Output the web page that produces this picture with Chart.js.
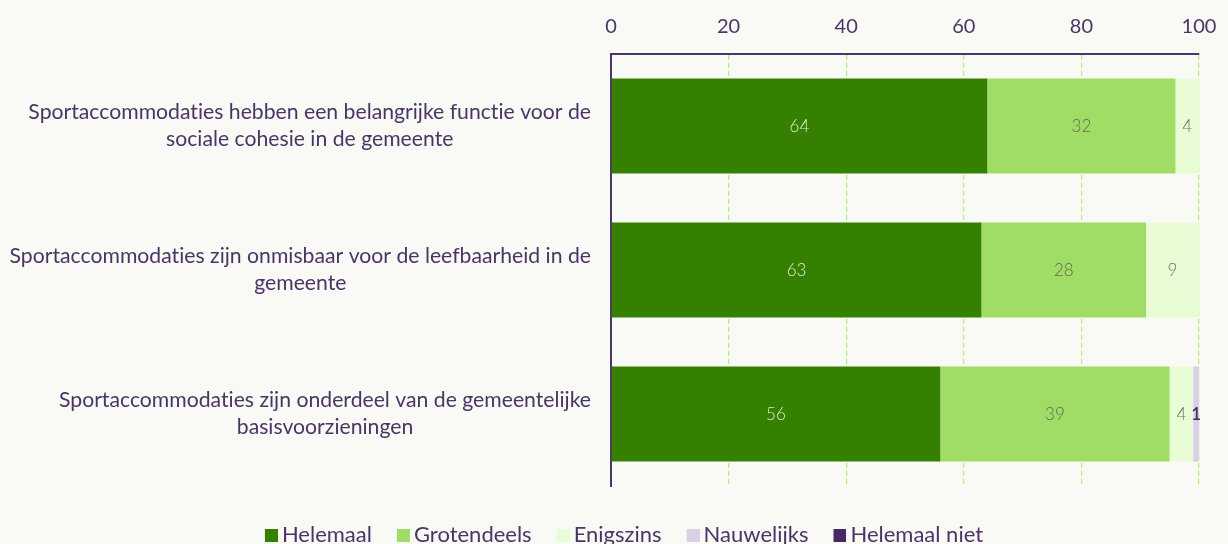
<!DOCTYPE html>
<html>
<head>
<meta charset="utf-8">
<script src="https://cdn.jsdelivr.net/npm/chart.js@4"></script>
<style>
  html, body { margin: 0; padding: 0; background: #f9f9f5; overflow: hidden; }
  #wrap { width: 1228px; height: 556px; position: relative; }
</style>
</head>
<body>
<div id="wrap"><canvas id="chart"></canvas></div>
<script>
const categories = [
  ["Sportaccommodaties hebben een belangrijke functie voor de", "sociale cohesie in de gemeente"],
  ["Sportaccommodaties zijn onmisbaar voor de leefbaarheid in de", "gemeente"],
  ["Sportaccommodaties zijn onderdeel van de gemeentelijke", "basisvoorzieningen"]
];
const helemaal = [64, 63, 56];
const grotendeels = [32, 28, 39];
const enigszins = [4, 9, 4];
const nauwelijks = [0, 0, 1];
const helemaalNiet = [0, 0, 0];
const xTicks = [0, 20, 40, 60, 80, 100];

const textColor = "#4a3566";
const font = "Lato, 'Noto Sans', sans-serif";
const legendSize = 22;
const padLeft = 30;

// small square drawn at the right of a wider image, so it sits close to the legend text
function legendSwatch(color) {
  const c = document.createElement("canvas");
  c.width = 27;
  c.height = 13;
  const g = c.getContext("2d");
  g.fillStyle = color;
  g.fillRect(14, 0, 13, 13);
  return c;
}

// category labels, lines centred on each other, right edge next to the axis
const categoryLabels = {
  id: "categoryLabels",
  afterDraw(chart) {
    const ctx = chart.ctx;
    const y = chart.scales.y;
    const right = y.right - 20;
    const lineH = 27;
    ctx.save();
    ctx.font = "21.2px " + font;
    if ("textRendering" in ctx) ctx.textRendering = "optimizeSpeed";
    ctx.fillStyle = textColor;
    ctx.textAlign = "center";
    ctx.textBaseline = "middle";
    categories.forEach((lines, i) => {
      const maxW = Math.max(...lines.map(l => ctx.measureText(l).width));
      const cx = right - maxW / 2;
      const cy = y.getPixelForValue(i);
      const top = cy - (lines.length - 1) * lineH / 2;
      lines.forEach((l, j) => ctx.fillText(l, cx, top + j * lineH));
    });
    ctx.restore();
  }
};

// value labels inside the segments
const valueLabels = {
  id: "valueLabels",
  afterDatasetsDraw(chart) {
    const ctx = chart.ctx;
    ctx.save();
    ctx.textAlign = "center";
    ctx.textBaseline = "middle";
    chart.data.datasets.forEach((ds, di) => {
      const meta = chart.getDatasetMeta(di);
      if (meta.hidden) return;
      meta.data.forEach((bar, i) => {
        const v = ds.data[i];
        if (!v) return;
        ctx.font = (ds.labelWeight || 300) + " 17px " + font;
        ctx.fillStyle = ds.labelColor;
        ctx.fillText(v, (bar.x + bar.base) / 2, bar.y + 1);
      });
    });
    ctx.restore();
  }
};

new Chart(document.getElementById("chart"), {
  type: "bar",
  data: {
    labels: categories,
    datasets: [
      { label: "Helemaal", data: helemaal, backgroundColor: "#368000", labelColor: "#dfead2" },
      { label: "Grotendeels", data: grotendeels, backgroundColor: "#a0dd66", labelColor: "#5f6a55" },
      { label: "Enigszins", data: enigszins, backgroundColor: "#e8fcd5", labelColor: "#707070" },
      { label: "Nauwelijks", data: nauwelijks, backgroundColor: "#d9d0e8", labelColor: "#472a63", labelWeight: 600 },
      { label: "Helemaal niet", data: helemaalNiet, backgroundColor: "#472a63", labelColor: "#ffffff" }
    ]
  },
  options: {
    indexAxis: "y",
    responsive: true,
    maintainAspectRatio: false,
    animation: false,
    barPercentage: 0.66,
    categoryPercentage: 1,
    layout: { padding: { top: 0, right: 17, left: padLeft, bottom: 0 } },
    scales: {
      x: {
        position: "top",
        stacked: true,
        min: 0,
        max: 100,
        afterBuildTicks: scale => { scale.ticks = xTicks.map(v => ({ value: v })); },
        afterFit: scale => { scale.paddingRight = 29; },
        grid: { color: "#b6f078", lineWidth: 1.3, drawTicks: false },
        border: { display: true, color: textColor, width: 2, dash: [5, 3] },
        ticks: { color: textColor, font: { family: font, size: 20 }, padding: 15 }
      },
      y: {
        stacked: true,
        afterFit: scale => { scale.width = 611 - padLeft; },
        grid: { display: false },
        border: { display: true, color: textColor, width: 2 },
        ticks: { display: false }
      }
    },
    plugins: {
      tooltip: { enabled: false },
      legend: {
        position: "bottom",
        title: { display: true, text: " ", font: { size: 1, lineHeight: 1 }, padding: { top: 19, bottom: 0 } },
        labels: {
          color: textColor,
          font: { family: font, size: legendSize },
          usePointStyle: true,
          pointStyleWidth: 13,
          boxHeight: 13,
          padding: 18,
          generateLabels: chart =>
            Chart.defaults.plugins.legend.labels.generateLabels(chart).map(item => {
              item.pointStyle = legendSwatch(chart.data.datasets[item.datasetIndex].backgroundColor);
              return item;
            })
        }
      }
    }
  },
  plugins: [categoryLabels, valueLabels]
});
</script>
</body>
</html>
